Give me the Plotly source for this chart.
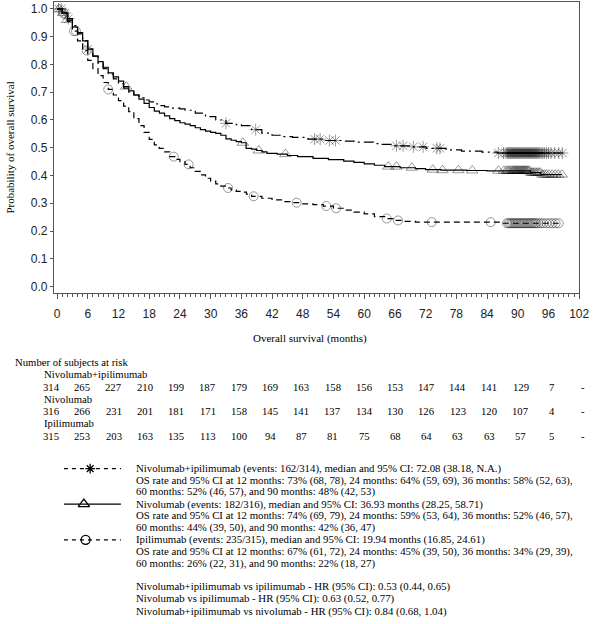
import plotly.graph_objects as go

# ---------------- data ----------------
months_ticks = [0, 6, 12, 18, 24, 30, 36, 42, 48, 54, 60, 66, 72, 78, 84, 90, 96, 102]
y_ticks = [0.0, 0.1, 0.2, 0.3, 0.4, 0.5, 0.6, 0.7, 0.8, 0.9, 1.0]

# Nivolumab+ipilimumab KM step points
ni_time = [0, 1, 2, 3, 4, 5, 6, 7, 8, 9, 10, 11, 12, 13, 14, 15, 16, 17, 18, 19, 20, 21, 22,
           24, 25, 27, 29, 31, 33, 35, 36, 38, 40, 42, 44, 46, 49, 52, 56, 58, 62, 63, 66, 69,
           72.08, 76, 79, 83, 86, 98.7]
ni_surv = [1.0, 0.985, 0.965, 0.94, 0.915, 0.885, 0.855, 0.83, 0.805, 0.785, 0.765, 0.748, 0.73,
           0.715, 0.70, 0.69, 0.68, 0.672, 0.665, 0.658, 0.652, 0.647, 0.643,
           0.64, 0.635, 0.625, 0.612, 0.60, 0.588, 0.583, 0.58, 0.565, 0.553, 0.545, 0.54, 0.537,
           0.531, 0.526, 0.524, 0.52, 0.515, 0.512, 0.507, 0.503,
           0.498, 0.492, 0.488, 0.484, 0.481, 0.481]
ni_cens = [0.3, 0.8, 1.6, 2.2, 6.0, 33.0, 38.8, 50.3, 51.4, 53.2, 54.4, 66.3, 67.6, 69.6, 71.5,
           74.2, 74.8, 86.2, 87.2, 87.7, 88.0, 88.2, 88.4, 88.6, 88.8, 89.0, 89.2, 89.4, 89.6,
           89.8, 90.0, 90.2, 90.4, 90.6, 90.8, 91.0, 91.2, 91.4, 91.6, 91.8, 92.0, 92.2, 92.4,
           92.6, 92.8, 93.0, 93.2, 93.4, 93.6, 93.8, 94.0, 94.3, 94.6, 94.9, 95.2, 95.6, 96.0,
           96.5, 97.2, 98.0, 98.7]

# Nivolumab KM step points
n_time = [0, 1, 2, 3, 4, 5, 6, 7, 8, 9, 10, 11, 12, 13, 14, 15, 16, 17, 18, 19, 20, 21, 22, 23,
          24, 25, 26, 27, 28, 29, 30, 31, 32, 33, 34, 35, 36, 36.93, 38, 39, 40, 41, 43, 45, 47,
          50, 53, 56, 58, 60, 62, 64, 67, 70, 72, 75, 80, 84, 92.5, 94.5, 98.6]
n_surv = [1.0, 0.985, 0.96, 0.935, 0.91, 0.885, 0.855, 0.83, 0.81, 0.79, 0.77, 0.755, 0.74, 0.72,
          0.705, 0.69, 0.675, 0.66, 0.645, 0.632, 0.625, 0.615, 0.605, 0.598,
          0.59, 0.585, 0.58, 0.572, 0.565, 0.56, 0.555, 0.552, 0.545, 0.532, 0.527, 0.522, 0.518,
          0.498, 0.495, 0.49, 0.485, 0.48, 0.477, 0.472, 0.468,
          0.462, 0.457, 0.452, 0.447, 0.442, 0.437, 0.432, 0.428, 0.425, 0.421, 0.419, 0.418,
          0.417, 0.41, 0.403, 0.403]
n_cens = [0.4, 1.2, 2.0, 13.5, 36.3, 39.4, 44.6, 64.7, 66.3, 69.3, 73.4, 75.3, 78.4, 81.1, 86.2,
          87.3, 87.8, 88.1, 88.4, 88.7, 89.0, 89.2, 89.4, 89.6, 89.8, 90.0, 90.2, 90.4, 90.6,
          90.8, 91.0, 91.2, 91.4, 91.6, 91.8, 92.0, 92.3, 92.6, 92.9, 93.2, 93.5, 93.8, 94.1,
          94.4, 94.8, 95.2, 95.6, 96.1, 96.7, 97.3, 97.9, 98.6]

# Ipilimumab KM step points
i_time = [0, 1, 2, 3, 4, 5, 6, 7, 8, 9, 10, 11, 12, 13, 14, 15, 16, 17, 18, 19, 19.94, 21, 22,
          23, 24, 25, 26, 27, 28, 29, 30, 31, 32, 33, 34, 35, 36, 37, 38, 40, 42, 44, 46, 48, 50,
          52, 54, 56, 58, 60, 62, 64, 66, 68, 70, 87, 98.0]
i_surv = [1.0, 0.985, 0.955, 0.92, 0.885, 0.85, 0.815, 0.785, 0.76, 0.735, 0.71, 0.69, 0.67,
          0.65, 0.63, 0.605, 0.58, 0.555, 0.53, 0.51, 0.498, 0.485, 0.468,
          0.458, 0.45, 0.44, 0.428, 0.415, 0.402, 0.39, 0.38, 0.37, 0.362, 0.355, 0.348, 0.343,
          0.34, 0.333, 0.325, 0.318, 0.312, 0.306, 0.302, 0.298, 0.295,
          0.29, 0.282, 0.275, 0.268, 0.262, 0.252, 0.245, 0.238, 0.235, 0.232, 0.228, 0.228]
i_cens = [1.3, 3.3, 3.7, 5.8, 10.0, 22.8, 25.7, 33.4, 38.4, 46.8, 52.6, 54.5, 64.4, 66.6, 73.2,
          84.7, 87.9, 88.2, 88.5, 88.8, 89.1, 89.4, 89.7, 90.0, 90.3, 90.6, 90.9, 91.2, 91.5,
          91.8, 92.1, 92.4, 92.7, 93.0, 93.3, 93.6, 94.0, 94.5, 95.0, 95.6, 96.2, 96.8, 97.4, 98.0]

# at-risk table
risk_times = months_ticks
ni_risk = ["314", "265", "227", "210", "199", "187", "179", "169", "163", "158", "156", "153",
           "147", "144", "141", "129", "7", "-"]
n_risk = ["316", "266", "231", "201", "181", "171", "158", "145", "141", "137", "134", "130",
          "126", "123", "120", "107", "4", "-"]
i_risk = ["315", "253", "203", "163", "135", "113", "100", "94", "87", "81", "75", "68", "64",
          "63", "63", "57", "5", "-"]
group_names = ["Nivolumab+ipilimumab", "Nivolumab", "Ipilimumab"]

legend_lines = [
    "Nivolumab+ipilimumab (events: 162/314), median and 95% CI: 72.08 (38.18, N.A.)",
    "OS rate and 95% CI at 12 months: 73% (68, 78), 24 months: 64% (59, 69), 36 months: 58% (52, 63),",
    "60 months: 52% (46, 57), and 90 months: 48% (42, 53)",
    "Nivolumab (events: 182/316), median and 95% CI: 36.93 months (28.25, 58.71)",
    "OS rate and 95% CI at 12 months: 74% (69, 79), 24 months: 59% (53, 64), 36 months: 52% (46, 57),",
    "60 months: 44% (39, 50), and 90 months: 42% (36, 47)",
    "Ipilimumab (events: 235/315), median and 95% CI: 19.94 months (16.85, 24.61)",
    "OS rate and 95% CI at 12 months: 67% (61, 72), 24 months: 45% (39, 50), 36 months: 34% (29, 39),",
    "60 months: 26% (22, 31), and 90 months: 22% (18, 27)",
]
hr_lines = [
    "Nivolumab+ipilimumab vs ipilimumab - HR (95% CI): 0.53 (0.44, 0.65)",
    "Nivolumab vs ipilimumab - HR (95% CI): 0.63 (0.52, 0.77)",
    "Nivolumab+ipilimumab vs nivolumab - HR (95% CI): 0.84 (0.68, 1.04)",
]

# ---------------- helpers ----------------
W, H = 602, 624


def px(xp):
    return xp / W


def py(yp):
    return 1 - yp / H


def step_at(times, surv, t):
    v = surv[0]
    for tt, ss in zip(times, surv):
        if tt <= t:
            v = ss
        else:
            break
    return v


SERIF = "Liberation Serif"
SANS = "Liberation Sans"
CENS = "rgba(0,0,0,0.4)"
TABLE_FS = 10.7
LEG_FS = 10.8

fig = go.Figure()

series = [
    (ni_time, ni_surv, ni_cens, "10px,4px,2px,4px", "asterisk-open", 10),
    (n_time, n_surv, n_cens, "solid", "triangle-up-open", 10),
    (i_time, i_surv, i_cens, "6px,4px", "circle-open", 9),
]
for name, (tx, sy, cens, dash, sym, msz) in zip(group_names, series):
    fig.add_trace(go.Scatter(x=tx, y=sy, mode="lines", line=dict(color="black", width=1.2, dash=dash, shape="hv"),
                             showlegend=False, name=name, hoverinfo="skip"))
    fig.add_trace(go.Scatter(x=cens, y=[step_at(tx, sy, c) for c in cens], mode="markers",
                             marker=dict(symbol=sym, size=msz, color=CENS, line=dict(color=CENS, width=1)),
                             showlegend=False, name=name + " censored", hoverinfo="skip"))

# dummy trace for the risk-table axes
fig.add_trace(go.Scatter(x=[None], y=[None], xaxis="x2", yaxis="y4", showlegend=False))

# legend keys on their own hidden axes
key_rows = [0, 1, 2]
key_dash = ["4px,4px", "solid", "4px,4px"]
key_sym = ["asterisk-open", "triangle-up-open", "circle-open"]
key_mx = [0.46, 0.35, 0.38]
key_size = [8, 10, 9]
for r, d, s, mx, ms in zip(key_rows, key_dash, key_sym, key_mx, key_size):
    fig.add_trace(go.Scatter(x=[0, 1], y=[r, r], mode="lines", line=dict(color="black", width=1.2, dash=d),
                             xaxis="x3", yaxis="y3", showlegend=False, hoverinfo="skip"))
    fig.add_trace(go.Scatter(x=[mx], y=[r], mode="markers",
                             marker=dict(symbol=s, size=ms, color="black", line=dict(color="black", width=1.3)),
                             xaxis="x3", yaxis="y3", showlegend=False, hoverinfo="skip"))

annotations = []
# axis titles
annotations.append(dict(text="Probability of overall survival", xref="paper", yref="paper",
                        x=px(10), y=py(148), textangle=-90, showarrow=False,
                        font=dict(family=SERIF, size=11, color="black"), xanchor="center", yanchor="middle"))
annotations.append(dict(text="Overall survival (months)", xref="paper", yref="paper",
                        x=px(315), y=py(339), showarrow=False,
                        font=dict(family=SERIF, size=11, color="black"), xanchor="center", yanchor="middle"))

# risk table
annotations.append(dict(text="Number of subjects at risk", xref="paper", yref="paper", x=px(13), y=py(362.5),
                        showarrow=False, xanchor="left", yanchor="middle",
                        font=dict(family=SERIF, size=TABLE_FS, color="black")))
label_y = [374.5, 399.3, 424]
row_y = [387.5, 411.5, 436.5]
for name, ly, ry, vals in zip(group_names, label_y, row_y, [ni_risk, n_risk, i_risk]):
    annotations.append(dict(text=name, xref="paper", yref="paper", x=px(43), y=py(ly), showarrow=False,
                            xanchor="left", yanchor="middle", font=dict(family=SERIF, size=TABLE_FS, color="black")))
    for t, v in zip(risk_times, vals):
        annotations.append(dict(text=v, xref="x2", yref="paper", x=t, y=py(ry), showarrow=False,
                                xanchor="center", yanchor="middle",
                                font=dict(family=SERIF, size=TABLE_FS, color="black")))

# legend text
leg_y = [469.3, 481, 492.7, 505, 516.7, 528.3, 540.7, 552.3, 564]
for t, yy in zip(legend_lines, leg_y):
    annotations.append(dict(text=t, xref="paper", yref="paper", x=px(136), y=py(yy), showarrow=False,
                            xanchor="left", yanchor="middle", font=dict(family=SERIF, size=LEG_FS, color="black")))
hr_y = [587, 599.7, 612.3]
for t, yy in zip(hr_lines, hr_y):
    annotations.append(dict(text=t, xref="paper", yref="paper", x=px(136), y=py(yy), showarrow=False,
                            xanchor="left", yanchor="middle", font=dict(family=SERIF, size=LEG_FS, color="black")))

AX = "#555555"
fig.update_layout(
    width=W, height=H, margin=dict(l=0, r=0, t=0, b=0),
    paper_bgcolor="white", plot_bgcolor="rgba(0,0,0,0)",
    showlegend=False,
    xaxis=dict(domain=[px(55), px(589)], range=[-0.58, 102], tickvals=months_ticks,
               ticks="outside", ticklen=5, tickcolor=AX, tickwidth=1, showgrid=False, zeroline=False,
               showline=True, linecolor=AX, linewidth=1.3, mirror=True,
               minor=dict(dtick=1, ticks="outside", ticklen=3, tickcolor=AX, showgrid=False),
               tickfont=dict(family=SANS, size=12, color="#222"), ticklabelstandoff=5, anchor="y"),
    yaxis=dict(domain=[py(293), py(2)], range=[-0.0216, 1.025], tickvals=y_ticks, tickformat=".1f",
               ticks="outside", ticklen=3, tickcolor=AX, showgrid=False, zeroline=False,
               showline=True, linecolor=AX, linewidth=1.3, mirror=True,
               tickfont=dict(family=SANS, size=12, color="#222"), ticklabelstandoff=0, anchor="x"),
    xaxis2=dict(domain=[px(30), px(600)], range=[-4.148, 103.32], visible=False, anchor="y4"),
    yaxis4=dict(domain=[py(445), py(355)], range=[0, 1], visible=False, anchor="x2"),
    xaxis3=dict(domain=[px(65), px(123)], range=[0, 1], visible=False, anchor="y3"),
    yaxis3=dict(domain=[py(558.5), py(451.5)], range=[2.5, -0.5], visible=False, anchor="x3"),
    annotations=annotations,
)

fig.write_html("out.html", config={"displayModeBar": False},
               post_script="document.body.style.margin='0';document.body.style.padding='0';"
                           "document.body.style.overflow='hidden';")
